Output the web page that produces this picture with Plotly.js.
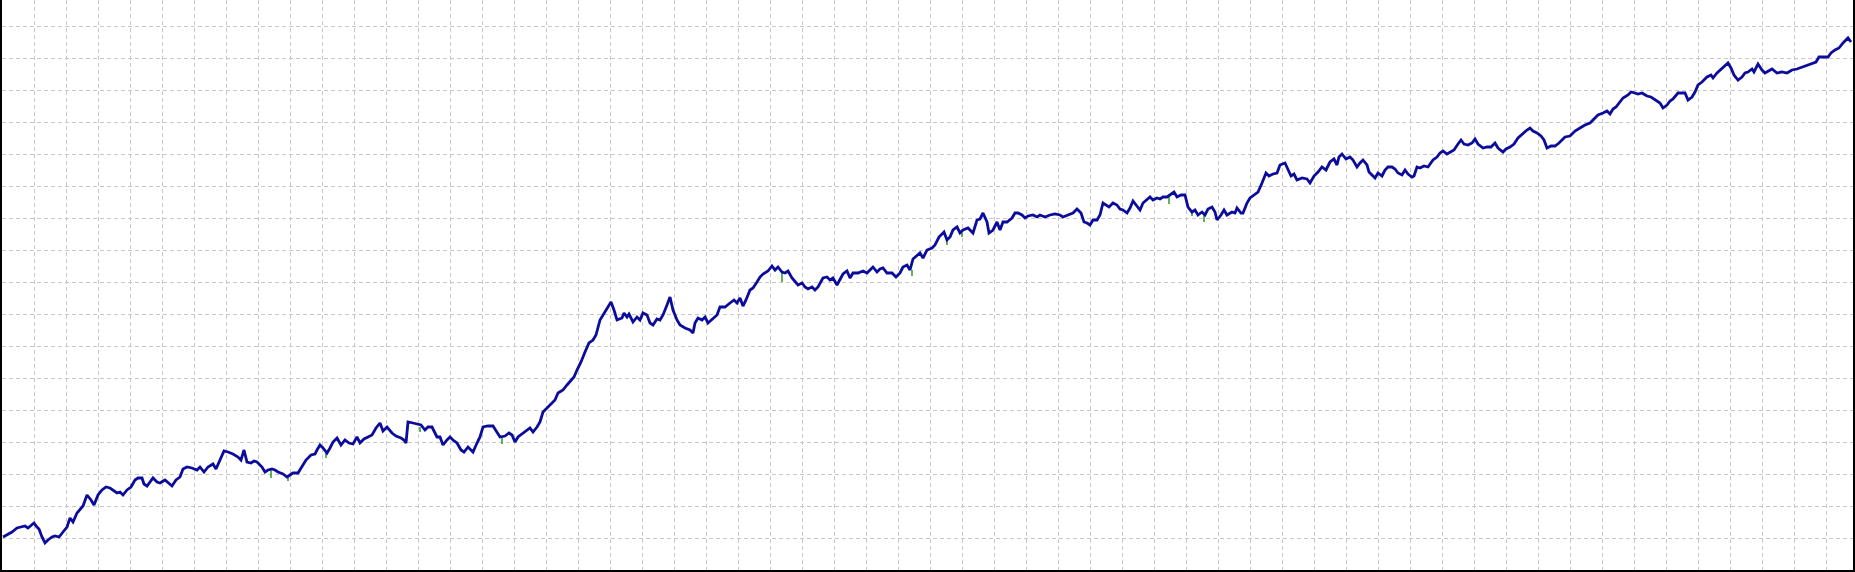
<!DOCTYPE html>
<html>
<head>
<meta charset="utf-8">
<script src="https://cdn.plot.ly/plotly-3.0.1.min.js"></script>
<style>
  html, body { margin: 0; padding: 0; background: #ffffff; }
  #chart { width: 1855px; height: 572px; }
</style>
</head>
<body>
<div id="chart"></div>
<script>
// Trade number (x) and balance (y, arbitrary units)
const trades = [
  1,5,10,15,18,23,26,30,32,35,37,40,43,46,50,53,57,61,65,68,71,75,78,81,85,89,92,96,100,104,
  108,111,115,118,121,125,129,133,136,140,142,145,148,151,155,158,163,166,170,174,178,181,185,190,195,198,202,206,211,214,
  218,222,226,231,236,239,242,245,249,252,255,260,263,266,270,273,276,281,285,288,291,296,300,304,309,313,315,317,318,321,
  325,328,331,335,339,343,347,351,355,358,362,366,370,374,378,381,385,390,394,399,402,404,406,411,415,419,423,426,430,435,
  438,441,445,448,451,455,459,462,466,471,475,478,481,486,491,495,498,503,507,510,513,516,521,525,528,531,535,538,541,545,
  550,553,556,561,565,568,572,575,579,583,587,591,594,598,601,606,609,612,615,620,622,625,627,631,635,638,641,645,648,651,
  655,658,661,665,668,671,675,678,683,688,691,693,696,700,703,706,711,715,718,723,728,732,735,738,741,744,748,751,755,758,
  761,766,770,773,776,780,783,786,790,793,796,800,803,806,810,813,816,821,825,828,831,835,838,841,845,848,851,856,861,865,
  868,871,875,878,881,885,890,894,898,901,905,908,911,915,918,921,925,930,933,937,942,945,948,951,955,958,961,966,971,975,
  978,981,985,987,991,995,998,1001,1005,1010,1013,1016,1020,1023,1026,1031,1035,1038,1043,1048,1053,1058,1061,1066,1071,1075,1079,1082,1085,1088,
  1091,1095,1098,1101,1104,1107,1111,1115,1118,1121,1125,1128,1131,1135,1138,1141,1145,1148,1151,1155,1158,1161,1165,1168,1172,1175,1179,1183,1186,1190,
  1193,1196,1200,1203,1206,1210,1213,1215,1219,1222,1225,1230,1233,1235,1239,1241,1245,1248,1251,1256,1260,1264,1267,1271,1275,1278,1283,1286,1289,1292,
  1295,1300,1305,1308,1312,1316,1320,1324,1328,1332,1335,1337,1340,1344,1348,1351,1355,1358,1361,1365,1367,1371,1373,1376,1380,1383,1386,1390,1393,1396,
  1400,1403,1406,1410,1412,1415,1418,1422,1426,1431,1435,1438,1441,1445,1448,1452,1456,1459,1462,1466,1470,1473,1476,1481,1485,1489,1493,1496,1501,1504,
  1508,1512,1516,1521,1525,1528,1531,1535,1539,1542,1545,1549,1553,1557,1559,1563,1568,1573,1578,1583,1588,1593,1596,1601,1605,1608,1611,1614,1617,1621,
  1626,1629,1633,1636,1640,1645,1649,1653,1658,1661,1665,1668,1671,1676,1680,1683,1686,1690,1693,1696,1700,1705,1709,1711,1715,1719,1723,1726,1729,1732,
  1736,1740,1743,1746,1750,1752,1756,1760,1763,1766,1770,1775,1780,1785,1790,1795,1800,1805,1810,1814,1817,1821,1826,1829,1833,1837,1841,1846,1849
];
const balance = [
  33,35,38,42,43,44,42,45,47,43,41,33,27,30,33,34,33,38,43,52,48,57,60,64,75,70,65,75,80,83,
  82,80,77,78,75,80,83,90,92,92,86,84,88,92,88,87,90,87,84,90,93,101,103,102,100,103,98,103,106,101,
  110,119,118,116,113,110,120,108,107,109,108,103,98,100,101,100,98,96,93,95,97,97,103,110,115,116,120,124,125,122,
  117,122,128,132,125,130,127,126,133,127,131,133,135,142,147,139,143,137,134,132,130,127,148,147,146,145,140,143,143,133,
  133,125,130,133,130,127,120,118,123,118,127,133,143,144,144,137,133,134,137,135,128,133,137,140,142,138,143,148,158,162,
  167,170,177,180,185,188,193,200,208,218,227,230,235,250,255,262,268,260,250,252,257,253,256,248,253,250,257,255,247,245,
  251,250,255,265,273,260,250,245,242,240,237,247,252,250,253,247,252,255,263,263,267,270,267,272,264,270,280,282,288,293,
  296,299,304,300,303,298,297,299,292,288,285,287,283,281,283,280,283,292,293,290,292,285,290,296,299,292,297,297,299,297,
  300,303,298,301,302,297,297,293,297,303,305,300,311,314,317,312,320,322,325,333,338,330,333,340,343,337,340,342,337,350,
  351,357,348,337,340,348,340,348,348,352,357,357,355,352,354,355,353,355,353,355,356,355,353,355,357,361,357,348,347,345,
  350,350,355,367,365,363,367,365,361,360,357,362,369,364,360,367,371,373,370,372,371,373,373,375,378,373,375,375,363,358,
  360,355,358,355,361,363,358,350,355,360,355,358,357,362,357,357,367,372,374,378,387,397,394,396,397,405,407,400,394,396,
  390,392,391,387,394,398,403,400,408,411,405,413,416,411,413,410,403,407,410,405,398,394,392,397,394,400,403,403,401,397,
  395,400,396,393,394,403,402,404,403,410,413,417,419,416,418,420,426,430,426,425,427,431,426,422,423,423,427,422,418,421,
  423,426,432,437,440,442,439,437,434,430,422,424,424,427,429,433,434,439,442,445,447,452,455,457,459,456,461,463,467,472,
  475,478,477,476,477,474,473,470,467,462,465,469,471,477,477,477,470,473,478,485,488,493,495,492,497,501,505,507,502,495,
  490,493,497,498,501,498,506,500,497,499,501,497,498,497,500,501,503,505,507,508,513,513,513,517,520,522,527,532,528
];

// Equity drawdowns (green) visible under the balance line: trade, equity high, equity low
const dipTrades = [269, 286, 324, 418, 500, 780, 910, 945, 960, 1167, 1190, 1202];
const dipHigh   = [100, 93, 117, 143, 134, 298, 300, 330, 337, 373, 358, 355];
const dipLow    = [92, 89, 112, 138, 126, 288, 294, 325, 333, 366, 354, 348];

const xTickStep = 32;   // trades per vertical grid division
const yTickStep = 32;   // balance units per horizontal grid division
const xMax = 1851;
const yMax = 570;

const eqX = [], eqY = [];
dipTrades.forEach((t, i) => {
  eqX.push(t, t, null);
  eqY.push(dipHigh[i], dipLow[i], null);
});

const equityTrace = {
  x: eqX,
  y: eqY,
  type: 'scatter',
  mode: 'lines',
  line: { color: '#2a9a2a', width: 1.5 },
  connectgaps: false,
  hoverinfo: 'skip'
};

const balanceTrace = {
  x: trades,
  y: balance,
  type: 'scatter',
  mode: 'lines',
  line: { color: '#0c0c9c', width: 2.8 },
  hoverinfo: 'skip'
};

const layout = {
  width: 1855,
  height: 572,
  margin: { l: 2, r: 2, t: 0, b: 2, pad: 0 },
  paper_bgcolor: '#ffffff',
  plot_bgcolor: '#ffffff',
  showlegend: false,
  xaxis: {
    range: [0, xMax],
    tick0: 0,
    dtick: xTickStep,
    showgrid: true,
    gridcolor: '#c8c8c8',
    gridwidth: 1,
    griddash: '4px,3px',
    zeroline: false,
    showticklabels: false,
    ticks: '',
    showline: true,
    linecolor: '#000000',
    linewidth: 2,
    mirror: false,
    fixedrange: true
  },
  yaxis: {
    range: [0, yMax],
    side: 'right',
    tick0: 0,
    dtick: yTickStep,
    showgrid: true,
    gridcolor: '#c8c8c8',
    gridwidth: 1,
    griddash: '4px,3px',
    zeroline: false,
    showticklabels: false,
    ticks: 'outside',
    ticklen: 3,
    tickcolor: '#000000',
    tickwidth: 1,
    showline: true,
    linecolor: '#000000',
    linewidth: 2,
    mirror: true,
    fixedrange: true
  }
};

Plotly.newPlot('chart', [equityTrace, balanceTrace], layout, { staticPlot: true, displayModeBar: false });
</script>
</body>
</html>
